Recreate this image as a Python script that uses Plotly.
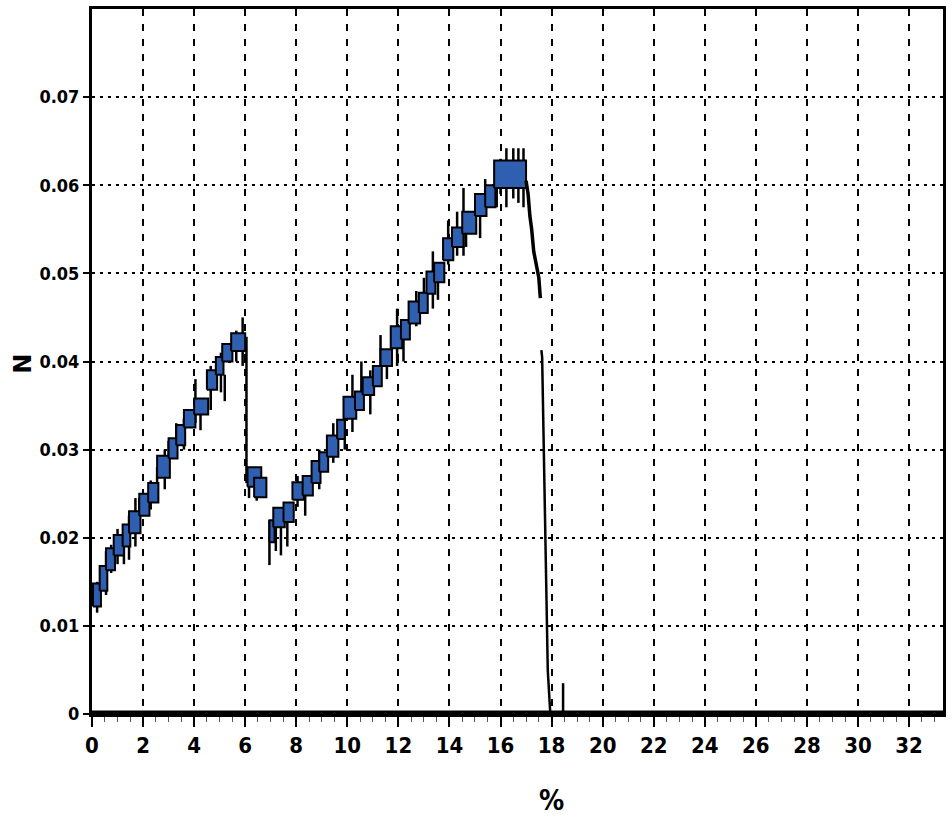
import plotly.graph_objects as go

# ---------------- data ----------------
# stepped force bands: strain start/end (%), lower/upper force (N)
band_x0 = [0.04, 0.30, 0.55, 0.85, 1.20, 1.45, 1.85, 2.20, 2.55, 3.00, 3.30, 3.60, 4.00, 4.50, 4.85, 5.10, 5.45,
           6.09, 6.35,
           6.95, 7.10, 7.50, 7.85, 8.25, 8.60, 8.90, 9.20, 9.60, 9.85, 10.30, 10.60, 11.00, 11.30, 11.70, 12.10,
           12.40, 12.80, 13.10, 13.40, 13.75, 14.10, 14.50, 15.00, 15.40, 15.75]
band_x1 = [0.35, 0.60, 0.90, 1.25, 1.50, 1.90, 2.25, 2.60, 3.05, 3.35, 3.65, 4.05, 4.55, 4.90, 5.15, 5.50, 6.00,
           6.63, 6.83,
           7.15, 7.55, 7.90, 8.30, 8.65, 8.95, 9.25, 9.65, 9.90, 10.35, 10.65, 11.05, 11.35, 11.75, 12.15, 12.45,
           12.85, 13.15, 13.45, 13.80, 14.15, 14.55, 15.05, 15.45, 15.80, 17.00]
band_lo = [0.0122, 0.0140, 0.0163, 0.0180, 0.0190, 0.0205, 0.0225, 0.0240, 0.0268, 0.0290, 0.0305, 0.0325, 0.0340, 0.0368, 0.0385, 0.0400, 0.0412,
           0.0258, 0.0246,
           0.0195, 0.0212, 0.0218, 0.0243, 0.0248, 0.0262, 0.0275, 0.0292, 0.0312, 0.0335, 0.0345, 0.0362, 0.0372, 0.0395, 0.0415, 0.0425,
           0.0443, 0.0455, 0.0477, 0.0490, 0.0515, 0.0530, 0.0545, 0.0565, 0.0575, 0.0597]
band_hi = [0.0148, 0.0168, 0.0188, 0.0203, 0.0215, 0.0230, 0.0250, 0.0262, 0.0293, 0.0313, 0.0328, 0.0345, 0.0358, 0.0390, 0.0405, 0.0420, 0.0432,
           0.0280, 0.0268,
           0.0220, 0.0234, 0.0240, 0.0263, 0.0270, 0.0287, 0.0297, 0.0316, 0.0334, 0.0360, 0.0366, 0.0382, 0.0395, 0.0414, 0.0440, 0.0447,
           0.0468, 0.0478, 0.0502, 0.0512, 0.0540, 0.0552, 0.0570, 0.0590, 0.0600, 0.0628]

# noise spikes: strain (%), min / max force (N)
spike_x = [0.20, 0.55, 0.75, 1.00, 1.25, 1.45, 1.70, 1.85, 2.30, 2.55, 2.85, 3.00, 3.30, 3.60, 4.05, 4.25,
           4.65, 5.05, 5.20, 5.65, 5.90, 6.15, 6.45,
           6.95, 7.20, 7.40, 7.65, 8.05, 8.35, 8.90, 9.45, 9.90, 10.20, 10.55, 10.90, 11.30, 11.55, 11.95,
           12.20, 12.70, 13.00, 13.35, 13.55, 13.95, 14.30, 14.55, 14.65, 15.20, 15.40, 15.85, 16.00,
           16.23, 16.50, 16.70, 16.90]
spike_lo = [0.0115, 0.0135, 0.0160, 0.0170, 0.0170, 0.0175, 0.0190, 0.0210, 0.0232, 0.0245, 0.0255, 0.0275, 0.0295, 0.0300, 0.0330, 0.0322,
            0.0345, 0.0365, 0.0355, 0.0400, 0.0395, 0.0245, 0.0242,
            0.0169, 0.0185, 0.0180, 0.0190, 0.0235, 0.0225, 0.0255, 0.0285, 0.0300, 0.0320, 0.0350, 0.0340, 0.0385, 0.0380, 0.0395,
            0.0400, 0.0440, 0.0455, 0.0460, 0.0470, 0.0510, 0.0520, 0.0520, 0.0530, 0.0540, 0.0565, 0.0575, 0.0590,
            0.0575, 0.0585, 0.0580, 0.0575]
spike_hi = [0.0150, 0.0185, 0.0192, 0.0210, 0.0215, 0.0225, 0.0245, 0.0245, 0.0265, 0.0280, 0.0300, 0.0310, 0.0330, 0.0335, 0.0380, 0.0340,
            0.0395, 0.0410, 0.0385, 0.0435, 0.0450, 0.0270, 0.0262,
            0.0220, 0.0225, 0.0220, 0.0230, 0.0270, 0.0260, 0.0300, 0.0330, 0.0350, 0.0385, 0.0400, 0.0390, 0.0430, 0.0410, 0.0460,
            0.0440, 0.0480, 0.0495, 0.0525, 0.0505, 0.0560, 0.0570, 0.0597, 0.0560, 0.0580, 0.0607, 0.0600, 0.0630,
            0.0642, 0.0642, 0.0642, 0.0642]

# first load drop
drop_x = [6.05, 6.05]
drop_y = [0.0428, 0.0262]
# post-peak decline
fall_x = [17.00, 17.08, 17.15, 17.22, 17.30, 17.42, 17.50, 17.56]
fall_y = [0.0605, 0.0590, 0.0565, 0.0550, 0.0525, 0.0505, 0.0495, 0.0472]
# final break
break_x = [17.60, 17.63, 17.85, 17.95]
break_y = [0.0413, 0.0405, 0.0050, 0.0]
# residual blip
tail_x = [18.45, 18.45]
tail_y = [0.0, 0.0035]

x_ticks = list(range(0, 33, 2))
y_ticks = [0, 0.01, 0.02, 0.03, 0.04, 0.05, 0.06, 0.07]
y_labels = ["0", "0.01", "0.02", "0.03", "0.04", "0.05", "0.06", "0.07"]

# ---------------- figure ----------------
fig = go.Figure()

BLUE = "#2f5fb0"

# spikes (one trace, gaps between segments)
sx, sy = [], []
for x, lo, hi in zip(spike_x, spike_lo, spike_hi):
    sx += [x, x, None]
    sy += [lo, hi, None]
fig.add_trace(go.Scatter(x=sx, y=sy, mode="lines", line=dict(color="black", width=2.5),
                         hoverinfo="skip", showlegend=False))

# bands as filled rectangles
for x0, x1, lo, hi in zip(band_x0, band_x1, band_lo, band_hi):
    fig.add_trace(go.Scatter(x=[x0, x1, x1, x0, x0], y=[lo, lo, hi, hi, lo], mode="lines",
                             fill="toself", fillcolor=BLUE,
                             line=dict(color="black", width=2), hoverinfo="skip", showlegend=False))

for xs, ys, w in [(drop_x, drop_y, 2.5), (fall_x, fall_y, 3.5), (break_x, break_y, 2.5), (tail_x, tail_y, 2.5)]:
    fig.add_trace(go.Scatter(x=xs, y=ys, mode="lines", line=dict(color="black", width=w),
                             hoverinfo="skip", showlegend=False))

FAM = "DejaVu Sans Condensed, Liberation Sans Narrow, Arial Narrow, sans-serif"
YFONT = dict(family=FAM, size=18, color="black", weight="bold")
XFONT = dict(family=FAM, size=22, color="black", weight="bold")

fig.update_layout(
    width=952, height=828,
    margin=dict(l=92, r=6, t=9, b=114),
    paper_bgcolor="white", plot_bgcolor="white",
    showlegend=False,
    xaxis=dict(range=[0, 33.33], tickvals=x_ticks, ticktext=[str(v) for v in x_ticks],
               showgrid=True, gridcolor="black", gridwidth=2, griddash="7px,8px",
               zeroline=False, showline=True, linecolor="black", linewidth=3, mirror=True,
               ticks="outside", ticklen=10, tickwidth=2, tickcolor="black",
               minor=dict(dtick=0.5, ticks="outside", ticklen=5, tickwidth=1, tickcolor="#555", showgrid=False),
               tickfont=XFONT),
    yaxis=dict(range=[0, 0.08], tickvals=y_ticks, ticktext=y_labels,
               showgrid=True, gridcolor="black", gridwidth=2, griddash="3px,5px",
               zeroline=False, showline=True, linecolor="black", linewidth=3, mirror=True,
               ticks="outside", ticklen=6, tickwidth=2, tickcolor="black",
               tickfont=YFONT),
    shapes=[dict(type="line", xref="paper", yref="y", x0=0, x1=1, y0=0, y1=0,
                 line=dict(color="black", width=7))],
    annotations=[
        dict(text="%", xref="x", yref="paper", x=18.0, y=-0.122, showarrow=False,
             font=dict(family=FAM, size=28, color="black", weight="bold"), yanchor="middle"),
        dict(text="N", xref="paper", yref="paper", x=-0.082, y=0.497, showarrow=False, textangle=-90,
             font=dict(family="DejaVu Sans, sans-serif", size=24, color="black", weight="bold"),
             xanchor="center", yanchor="middle"),
    ],
)

fig.write_html("out.html")
